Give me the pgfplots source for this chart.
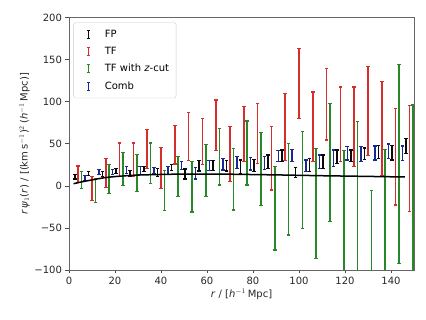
\documentclass[border=0pt]{standalone}
\usepackage{fontspec}
\setmainfont{DejaVu Sans}
\usepackage{pgfplots}
\usepackage{pgfplotstable}
\pgfplotsset{compat=1.18}
\definecolor{cfp}{RGB}{10,10,10}
\definecolor{ctf}{RGB}{214,45,45}
\definecolor{ctfz}{RGB}{40,135,40}
\definecolor{ccomb}{RGB}{25,40,150}
% each error bar: lower end, upper end, then a gap (nan)
\pgfplotstableread{
x y
2.5 8
2.5 13
2.5 nan
8.5 12
8.5 17
8.5 nan
14.5 11
14.5 17
14.5 nan
20.5 14.6
20.5 20.6
20.5 nan
26.5 11.5
26.5 18.5
26.5 nan
32.5 17
32.5 23
32.5 nan
38.5 11
38.5 21
38.5 nan
44.5 18.2
44.5 25.2
44.5 nan
50.5 8
50.5 20
50.5 nan
56.5 17.5
56.5 30.5
56.5 nan
62.5 18
62.5 30
62.5 nan
68.5 17.5
68.5 30.5
68.5 nan
74.5 14.7
74.5 30.7
74.5 nan
80.5 17
80.5 31
80.5 nan
86.5 20.6
86.5 36.6
86.5 nan
92.5 28.5
92.5 42.5
92.5 nan
98.5 10
98.5 22
98.5 nan
104.5 16.7
104.5 32.7
104.5 nan
110.5 20.7
110.5 36.7
110.5 nan
116.5 26.6
116.5 42.6
116.5 nan
122.5 28.6
122.5 42.6
122.5 nan
128.5 31
128.5 45
128.5 nan
134.5 32
134.5 48
134.5 nan
140.5 30.7
140.5 48.1
140.5 nan
146.5 38.5
146.5 56.5
}\fpdata
\pgfplotstableread{
x y
4 3.5
4 23.5
4 nan
10 -17
10 11
10 nan
16 -1.6
16 32.4
16 nan
22 11
22 51
22 nan
28 11
28 51
28 nan
34 21
34 67
34 nan
40 -3
40 46
40 nan
46 26
46 72
46 nan
52 30.5
52 87.5
52 nan
58 25
58 80
58 nan
64 42
64 102
64 nan
70 5
70 70.2
70 nan
76 28.7
76 94.7
76 nan
82 26.8
82 98
82 nan
88 -5
88 70.2
88 nan
94 30
94 110
94 nan
100 80.3
100 163.3
100 nan
106 28.5
106 111.5
106 nan
112 54.4
112 139.6
112 nan
118 28.5
118 117.5
118 nan
124 22.5
124 117.5
124 nan
130 36.5
130 141.5
130 nan
136 12.5
136 123.5
136 nan
142 -22.8
142 92
142 nan
148 -30.4
148 95.6
}\tfdata
\pgfplotstableread{
x y
5.5 -3
5.5 17
5.5 nan
11.5 -20
11.5 9
11.5 nan
17.5 -9
17.5 25
17.5 nan
23.5 0
23.5 40
23.5 nan
29.5 -7
29.5 37
29.5 nan
35.5 3
35.5 51
35.5 nan
41.5 -29
41.5 18
41.5 nan
47.5 -13
47.5 35
47.5 nan
53.5 -31
53.5 29
53.5 nan
59.5 -13
59.5 49
59.5 nan
65.5 1
65.5 68.2
65.5 nan
71.5 -28.6
71.5 44.6
71.5 nan
77.5 1
77.5 77
77.5 nan
83.5 -23
83.5 63
83.5 nan
89.5 -76.3
89.5 22.7
89.5 nan
95.5 -58.5
95.5 50.5
95.5 nan
101.5 -50.4
101.5 64.4
101.5 nan
107.5 -86.1
107.5 44.5
107.5 nan
113.5 -42.6
113.5 98
113.5 nan
119.5 -112
119.5 42
119.5 nan
125.5 -106
125.5 76
125.5 nan
131.5 -134
131.5 -6
131.5 nan
137.5 -107
137.5 43
137.5 nan
143.5 -92
143.5 144
143.5 nan
149.5 -116
149.5 96
}\tfzdata
\pgfplotstableread{
x y
7 6
7 12
7 nan
13 13.3
13 19.3
13 nan
19 13
19 19
19 nan
25 15
25 23
25 nan
31 13
31 23
31 nan
37 14
37 22
37 nan
43 13
43 23
43 nan
49 19
49 29
49 nan
55 8
55 22
55 nan
61 18
61 30
61 nan
67 18.7
67 32.7
67 nan
73 20.7
73 34.7
73 nan
79 18.8
79 33.8
79 nan
85 19
85 35
85 nan
91 28.5
91 41.5
91 nan
97 28.5
97 43.5
97 nan
103 16.7
103 30.7
103 nan
109 20.7
109 36.7
109 nan
115 22.6
115 42.6
115 nan
121 30.6
121 46.6
121 nan
127 29
127 47
127 nan
133 30.7
133 47.3
133 nan
139 32.3
139 49.7
139 nan
145 29.9
145 47.3
}\combdata
\pgfplotstableread{
x y
2 2.5
6 5
10 7
15 9.5
20 11
25 12
30 12.8
40 13.5
50 14
60 14
70 13.8
80 13.4
90 13
100 12.5
110 12
120 11.6
130 11.2
146 10.5
}\modeldata
\pgfplotsset{
  ebar/.style={
    color=#1, line width=1.55pt, solid,
    mark=-, mark size=1.8pt, mark options={solid, line width=1.2pt, draw=#1},
    unbounded coords=jump,
  },
}
\begin{document}
\begin{tikzpicture}
\begin{axis}[
  scale only axis,
  width=345pt, height=252.5pt,
  xmin=0, xmax=150, ymin=-100, ymax=200,
  clip marker paths=true,
  xtick={0,20,...,140},
  ytick={-100,-50,0,50,100,150,200},
  yticklabels={−100,−50,0,50,100,150,200},
  /pgf/number format/assume math mode=true,
  tick pos=left, tick align=outside,
  major tick length=3.5pt,
  axis line style={draw=black!60, line width=0.8pt},
  tick style={black!70, line width=0.6pt},
  ticklabel style={font=\fontsize{10}{12}\selectfont, text=black!85},
  xlabel={\textit{r} / [\textit{h}$^{-1}$\,Mpc]},
  ylabel={\textit{r}\,\textit{ψ}$_1$(\textit{r}) / [(km\,s$^{-1}$)$^2$\,(\textit{h}$^{-1}$\,Mpc)]},
  label style={font=\fontsize{10}{12}\selectfont, text=black!85},
  xlabel style={yshift=2pt},
  ylabel style={yshift=-2pt},
  legend style={at={(0.013,0.98)}, anchor=north west, draw=black!20, rounded corners=2pt,
    font=\fontsize{10}{12}\selectfont, row sep=4.5pt, inner xsep=5pt, inner ysep=5pt},
  legend cell align=left,
  legend image code/.code={
    \path[draw=none] (0cm,0cm) -- (0.85cm,0cm);
    \draw[line width=1.3pt, solid] (0.35cm,-0.14cm) -- (0.35cm,0.14cm);
    \draw[line width=1.1pt, solid] (0.29cm,-0.14cm) -- (0.41cm,-0.14cm);
    \draw[line width=1.1pt, solid] (0.29cm,0.14cm) -- (0.41cm,0.14cm);
  },
]
\addplot[ebar=cfp] table[x=x, y=y] {\fpdata};
\addlegendentry{FP}
\addplot[ebar=ctf] table[x=x, y=y] {\tfdata};
\addlegendentry{TF}
\addplot[ebar=ctfz] table[x=x, y=y] {\tfzdata};
\addlegendentry{TF with \textit{z}-cut}
\addplot[ebar=ccomb] table[x=x, y=y] {\combdata};
\addlegendentry{Comb}
\addplot[black, line width=1.5pt, no marks, smooth, forget plot] table[x=x, y=y] {\modeldata};
\end{axis}
\pgfresetboundingbox
\useasboundingbox ([shift={(-69pt,-50pt)}]current axis.south west) rectangle ([shift={(12pt,17.5pt)}]current axis.north east);
\end{tikzpicture}
\end{document}
